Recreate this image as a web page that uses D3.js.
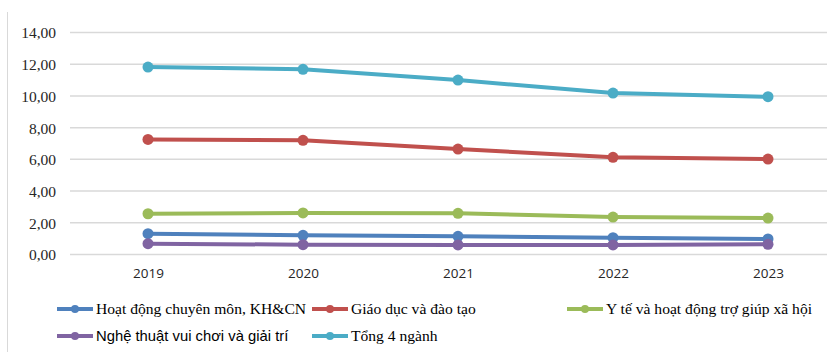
<!DOCTYPE html>
<html><head><meta charset="utf-8">
<script src="https://cdn.jsdelivr.net/npm/d3@7"></script>
<style>body{margin:0;background:#fff}svg{display:block}</style>
</head><body>
<script>
const years = ["2019","2020","2021","2022","2023"];
const seriesNames = ["Hoạt động chuyên môn, KH&CN","Giáo dục và đào tạo","Y tế và hoạt động trợ giúp xã hội","Nghệ thuật vui chơi và giải trí","Tổng 4 ngành"];
const hoatDong = [1.31,1.21,1.15,1.06,0.98];
const giaoDuc = [7.26,7.20,6.65,6.13,6.02];
const yTe = [2.57,2.62,2.60,2.36,2.30];
const ngheThuat = [0.68,0.62,0.60,0.60,0.64];
const tong = [11.82,11.68,11.00,10.18,9.95];
const yTicks = [0,2,4,6,8,10,12,14];
const colors = ["#4F81BD","#C0504D","#9BBB59","#8064A2","#4BACC6"];

const series = [hoatDong,giaoDuc,yTe,ngheThuat,tong];
const W=827,H=358;
const svg=d3.select("body").append("svg").attr("width",W).attr("height",H);
svg.append("line").attr("x1",7.5).attr("x2",7.5).attr("y1",12).attr("y2",352).attr("stroke","#d9d9d9").attr("stroke-width",1);

const x=d3.scalePoint().domain(years).range([148,768]);
const y=d3.scaleLinear().domain([0,14]).range([254.5,32.5]);

const g=svg.append("g");
g.selectAll(".grid").data(yTicks).join("line")
 .attr("x1",70).attr("x2",W).attr("y1",d=>y(d)).attr("y2",d=>y(d))
 .attr("stroke","#d9d9d9").attr("stroke-width",1.5);

const fmt=d=>d.toFixed(2).replace(".",",");
const yAxis=d3.axisLeft(y).tickValues(yTicks).tickFormat(fmt).tickSize(0).tickPadding(0);
const ya=svg.append("g").attr("transform","translate(56,0)").call(yAxis);
ya.select(".domain").remove();
ya.selectAll("text").attr("font-family","Liberation Serif, serif").attr("font-size",15.5).attr("fill","#262626").attr("dy","0.35em");

const xAxis=d3.axisBottom(x).tickSize(0).tickPadding(0);
const xa=svg.append("g").attr("transform","translate(0,268)").call(xAxis);
xa.select(".domain").remove();
xa.selectAll("text").attr("font-family","Open Sans, sans-serif").attr("font-size",13.5).attr("fill","#262626").attr("dy","0.71em");

const line=d3.line().x((d,i)=>x(years[i])).y(d=>y(d));
series.forEach((s,k)=>{
  g.append("path").datum(s).attr("d",line).attr("fill","none")
   .attr("stroke",colors[k]).attr("stroke-width",4).attr("stroke-linejoin","round");
  g.selectAll(".m"+k).data(s).join("circle")
   .attr("cx",(d,i)=>x(years[i])).attr("cy",d=>y(d)).attr("r",5.5).attr("fill",colors[k]);
});

const legPos=[[57,309],[312,309],[567,309],[57,336],[312,336]];
const legFont=["Liberation Serif, serif","Liberation Serif, serif","Liberation Serif, serif","Liberation Sans, Arial, sans-serif","Liberation Serif, serif"];
const legSize=[15.6,15.6,15.6,14.8,15.6];
const lg=svg.append("g");
seriesNames.forEach((n,k)=>{
  const [lx,ly]=legPos[k];
  lg.append("line").attr("x1",lx).attr("x2",lx+36).attr("y1",ly).attr("y2",ly).attr("stroke",colors[k]).attr("stroke-width",4);
  lg.append("circle").attr("cx",lx+18).attr("cy",ly).attr("r",4).attr("fill",colors[k]);
  lg.append("text").attr("x",lx+39).attr("y",ly).attr("dy","0.35em").attr("font-family",legFont[k])
    .attr("font-size",legSize[k]).attr("fill","#000").text(n);
});
</script>
</body></html>
